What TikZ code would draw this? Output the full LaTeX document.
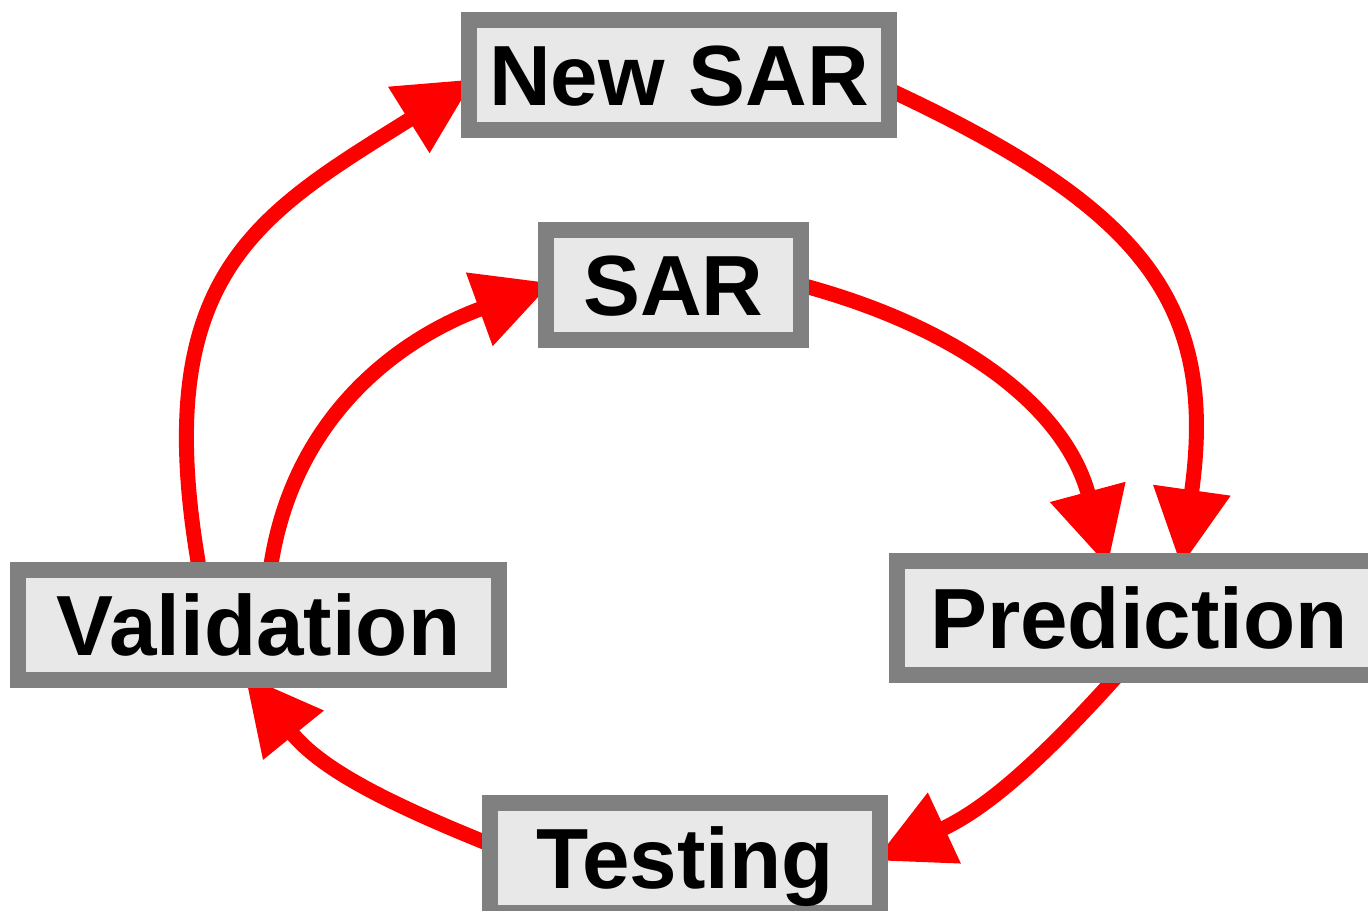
\documentclass[tikz,border=0pt]{standalone}
\usepackage{fontspec}
\setmainfont{Liberation Sans}
\usetikzlibrary{arrows.meta, backgrounds}

\begin{document}
\begin{tikzpicture}[
        x=0.1mm, y=0.1mm,
        stagebox/.style={
            rectangle,
            draw=gray,
            fill=gray!18,
            line width=1.6mm,
            minimum height=11mm,
            inner sep=0pt,
            outer sep=0pt,
            text height=17.4pt,
            text depth=0pt,
            font=\fontsize{24.3}{29}\selectfont\bfseries
        },
        cyclearrow/.style={
            draw=red,
            line width=1.5mm,
            -{Triangle[length=7.7mm, width=7.4mm]},
            shorten >=-0.6mm
        }
    ]
    \useasboundingbox (0,0) rectangle (1368,910);

    \node[stagebox, minimum width=42mm] (newsar) at (679, 835) {New SAR};
    \node[stagebox, minimum width=25.5mm] (sar) at (673.5, 625) {SAR};
    \node[stagebox, minimum width=48.1mm] (valid) at (258.5, 285) {Validation};
    \node[stagebox, minimum width=48.4mm, minimum height=11.4mm] (pred) at (1139, 292.5) {Prediction};
    \node[stagebox, minimum width=39mm] (test) at (685, 52) {Testing};

    % arrows go behind the boxes
    \begin{scope}[on background layer]
        \fill[white] (0,0) rectangle (1368,910);
        % outer loop
        \draw[cyclearrow] (newsar.-4) .. controls +(-25:28mm) and +(82:26mm) .. (pred.53);
        \draw[cyclearrow] (valid.137) .. controls +(100:30mm) and +(-148:25mm) .. (newsar.182);
        % inner loop
        \draw[cyclearrow] (sar.east) to[out=-15, in=105] (pred.120);
        \draw[cyclearrow] (valid.78) to[out=82, in=-160] (sar.west);
        % shared part
        \draw[cyclearrow] (pred.-110) to[out=-132, in=25] (test.east);
        \draw[cyclearrow] (test.176) to[out=158, in=-51] (valid.-100);
    \end{scope}
\end{tikzpicture}
\end{document}
